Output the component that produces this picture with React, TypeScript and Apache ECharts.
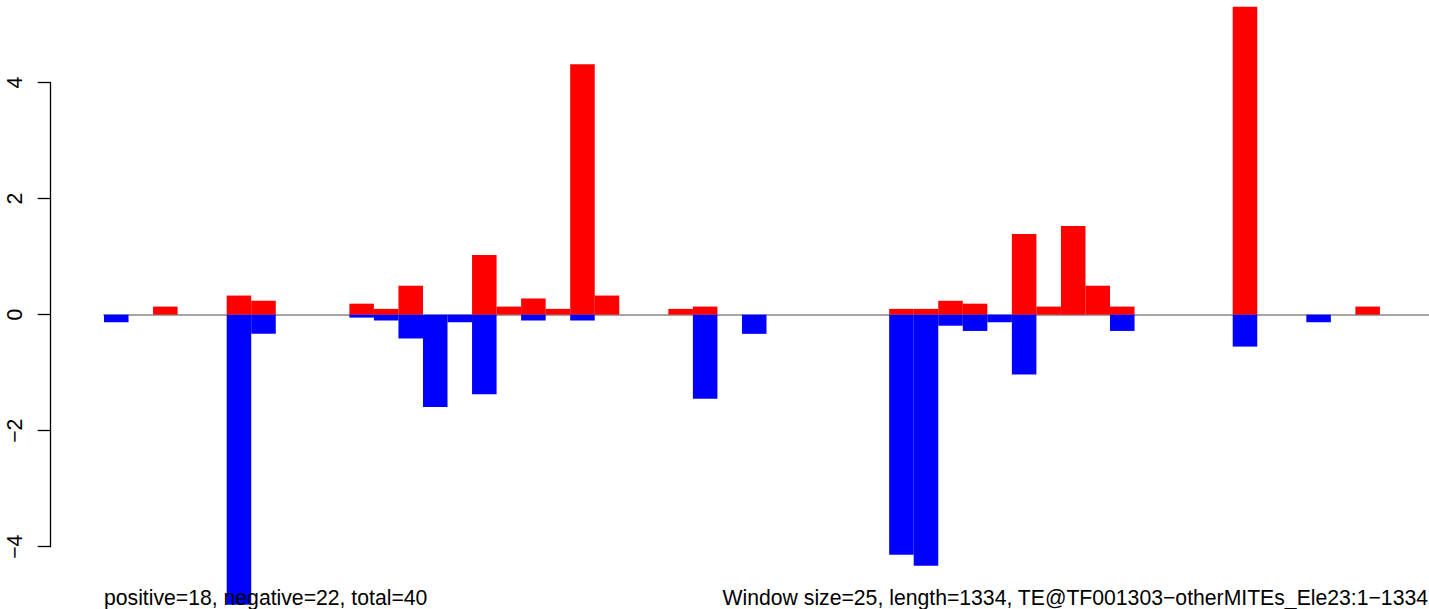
import React, { useEffect, useRef } from "react";
import * as echarts from "echarts";

const WINDOW_SIZE = 25;
const SEQ_LENGTH = 1334;
const N_WINDOWS = 54;

// window start positions used as category names (not shown)
const categories: string[] = Array.from({ length: N_WINDOWS }, (_, i) => String(i * WINDOW_SIZE + 1));

// positive (red) and negative (blue) values per window; null = no bar
const positiveValues: (number | null)[] = [
  null, null, 0.14, null, null, 0.33, 0.24, null, null, null,
  0.19, 0.10, 0.50, null, null, 1.03, 0.14, 0.28, 0.10, 4.32,
  0.33, null, null, 0.10, 0.14, null, null, null, null, null,
  null, null, 0.10, 0.10, 0.24, 0.19, null, 1.39, 0.14, 1.53,
  0.50, 0.14, null, null, null, null, 5.31, null, null, null,
  null, 0.14, null, null,
];
const negativeValues: (number | null)[] = [
  -0.13, null, null, null, null, -5.0, -0.33, null, null, null,
  -0.05, -0.10, -0.41, -1.59, -0.13, -1.37, null, -0.10, null, -0.10,
  null, null, null, null, -1.45, null, -0.33, null, null, null,
  null, null, -4.14, -4.33, -0.19, -0.28, -0.13, -1.03, null, null,
  null, -0.28, null, null, null, null, -0.55, null, null, -0.13,
  null, null, null, null,
];

const yTicks = { min: -4, max: 4, interval: 2 };

const leftNote = "positive=18, negative=22, total=40";
const rightNote = `Window size=${WINDOW_SIZE}, length=${SEQ_LENGTH}, TE@TF001303\u2212otherMITEs_Ele23:1\u2212${SEQ_LENGTH}`;

const FONT = "'Liberation Sans', Arial, Helvetica, sans-serif";

export default function App() {
  const ref = useRef<HTMLDivElement>(null);
  useEffect(() => {
    document.body.style.margin = "0";
    if (!ref.current) return;
    const chart = echarts.init(ref.current, null, { renderer: "svg" });
    const barPx = 24.59;
    chart.setOption({
      animation: false,
      backgroundColor: "#ffffff",
      grid: {
        left: 104,
        top: 82.7,
        width: barPx * N_WINDOWS,
        height: 464,
        containLabel: false,
      },
      xAxis: {
        type: "category",
        data: categories,
        axisLine: { show: true, onZero: true, lineStyle: { color: "#a6a6a6", width: 2 } },
        axisTick: { show: false },
        axisLabel: { show: false },
        splitLine: { show: false },
      },
      yAxis: {
        type: "value",
        min: yTicks.min,
        max: yTicks.max,
        interval: yTicks.interval,
        offset: 53.3,
        axisLine: { show: true, lineStyle: { color: "#000000", width: 1.3 } },
        axisTick: { show: true, length: 13, inside: false, lineStyle: { color: "#000000", width: 1.3 } },
        axisLabel: {
          show: true,
          rotate: 90,
          margin: 26,
          color: "#000000",
          fontSize: 21.2,
          fontFamily: FONT,
          formatter: (v: number) => String(v).replace("-", "\u2212"),
        },
        splitLine: { show: false },
      },
      series: [
        {
          name: "positive",
          type: "bar",
          data: positiveValues,
          barGap: "-100%",
          barCategoryGap: "0%",
          clip: false,
          itemStyle: { color: "#ff0000" },
          z: 3,
        },
        {
          name: "negative",
          type: "bar",
          data: negativeValues,
          barGap: "-100%",
          barCategoryGap: "0%",
          clip: false,
          itemStyle: { color: "#0000ff" },
          z: 3,
        },
      ],
      graphic: [
        {
          type: "text",
          z: 100,
          x: 104,
          y: 608,
          style: {
            text: leftNote,
            font: `21.2px ${FONT}`,
            fill: "#000000",
            textAlign: "left",
            textVerticalAlign: "bottom",
          },
        },
        {
          type: "text",
          z: 100,
          x: 1428,
          y: 608,
          style: {
            text: rightNote,
            font: `21.2px ${FONT}`,
            fill: "#000000",
            textAlign: "right",
            textVerticalAlign: "bottom",
          },
        },
      ],
    });
    return () => chart.dispose();
  }, []);
  return <div ref={ref} style={{ width: 1429, height: 609 }} />;
}
